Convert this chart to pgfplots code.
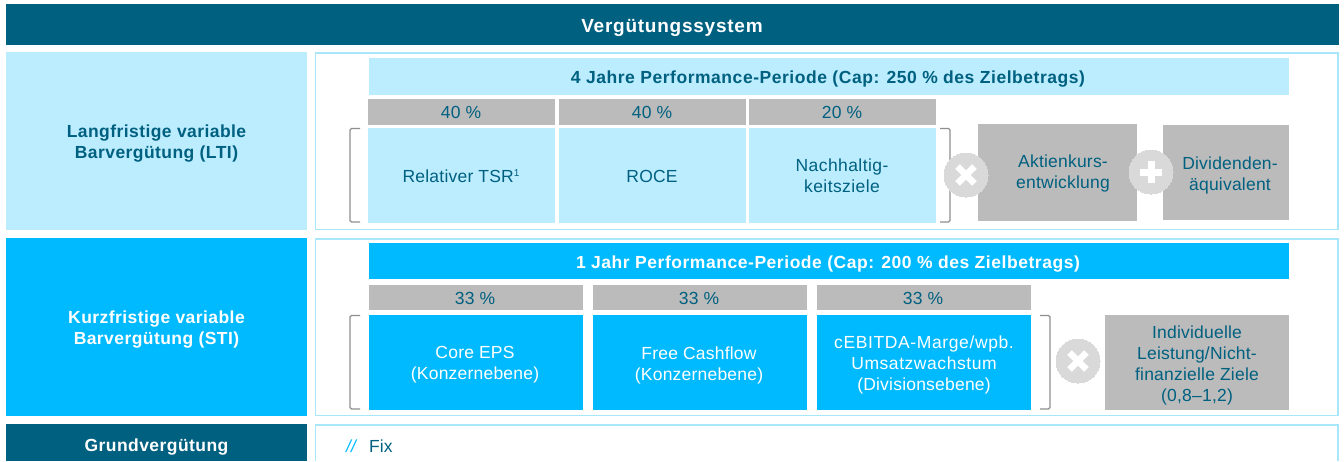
\documentclass[border=0pt]{standalone}
\usepackage{fontspec}
\setmainfont{Liberation Sans}
\usepackage{pgfplots}
\pgfplotsset{compat=1.18}
\definecolor{dunkel}{HTML}{006080}
\definecolor{hell}{HTML}{BBEDFF}
\definecolor{mittel}{HTML}{00BAFF}
\definecolor{grau}{HTML}{BBBBBB}
\definecolor{rand}{HTML}{A8E6FA}
\definecolor{kreis}{HTML}{D9D9D9}
\definecolor{klammer}{HTML}{8F8F8F}

% box: colour, x0, x1, y0, y1 in reference pixels
\newcommand{\bx}[5]{\addplot[mark=none,draw=none,fill=#1] coordinates {(#2,#4)(#3,#4)(#3,#5)(#2,#5)} -- cycle;}
\newcommand{\rahmen}[4]{\addplot[mark=none,draw=rand,line width=1.7pt,fill=white] coordinates {(#1,#3)(#2,#3)(#2,#4)(#1,#4)} -- cycle;}
\newcommand{\kl}[4]{\addplot[mark=none,draw=klammer,line width=1.1pt,rounded corners=1.5pt] coordinates {(#1,#3)(#2,#3)(#2,#4)(#1,#4)};}
\newcommand{\txt}[4]{\node[text=#1,align=center,inner sep=0pt,font=\fontsize{17.5}{21}\selectfont\addfontfeature{LetterSpace=1.2}] at (axis cs:#2,#3) {#4};}
\newcommand{\btxt}[4]{\node[text=#1,align=center,inner sep=0pt,font=\fontsize{17.5}{21}\selectfont\bfseries\addfontfeature{LetterSpace=2.5}] at (axis cs:#2,#3) {#4};}
\newcommand{\ptxt}[4]{\node[text=#1,align=center,inner sep=0pt,font=\fontsize{17.5}{21}\selectfont\bfseries\addfontfeature{LetterSpace=3.1}] at (axis cs:#2,#3) {#4};}
\newcommand{\hoch}[1]{\raisebox{6pt}{\fontsize{10}{10}\selectfont #1}}

\begin{document}
\begin{tikzpicture}
\useasboundingbox (0,0) rectangle (1344pt,461pt);
\begin{axis}[
  at={(0,0)},anchor=south west,
  scale only axis,width=1344pt,height=461pt,
  xmin=0,xmax=1344,ymin=0,ymax=461,y dir=reverse,
  hide axis,
]
% header
\bx{dunkel}{6}{1339}{4}{45}
\node[text=white,inner sep=0pt,font=\fontsize{19}{20}\selectfont\bfseries\addfontfeature{LetterSpace=4}] at (axis cs:672,28) {Vergütungssystem};

% LTI
\bx{hell}{6}{307}{52}{230}
\btxt{dunkel}{156.5}{144}{Langfristige variable\\Barvergütung (LTI)}
\rahmen{315.5}{1338}{53}{229.5}
\bx{hell}{369}{1289}{58}{95}
\ptxt{dunkel}{828}{79}{4 Jahre Performance-Periode (Cap: 250 \% des Zielbetrags)}
\bx{grau}{368}{555}{99}{125}
\bx{grau}{559}{746}{99}{125}
\bx{grau}{749}{936}{99}{125}
\txt{dunkel}{461}{112.5}{40 \%}
\txt{dunkel}{652}{112.5}{40 \%}
\txt{dunkel}{842}{112.5}{20 \%}
\bx{hell}{368}{555}{128}{223}
\bx{hell}{559}{746}{128}{223}
\bx{hell}{749}{936}{128}{223}
\txt{dunkel}{461}{176}{Relativer TSR\hoch{1}}
\txt{dunkel}{652}{176}{ROCE}
\txt{dunkel}{842}{175.5}{{\addfontfeature{LetterSpace=2.4}Nachhaltig-}\\{\addfontfeature{LetterSpace=2.4}keitsziele}}
\kl{360}{350}{128.5}{222}
\kl{940}{950}{128.5}{222}
\bx{grau}{978}{1137}{124}{221}
\bx{grau}{1163}{1289}{125}{220}
\txt{dunkel}{1063}{173}{Aktienkurs-\\entwicklung}
\txt{dunkel}{1230}{175}{Dividenden-\\äquivalent}
\addplot[only marks,mark=*,mark size=22pt,mark options={draw=kreis,line width=0pt,fill=kreis}] coordinates {(966,175)(1151,172)(1078,361)};
\addplot[only marks,mark=x,mark size=12pt,mark options={draw=white,line width=6.5pt}] coordinates {(966,175)(1078,361)};
\addplot[only marks,mark=+,mark size=11pt,mark options={draw=white,line width=7pt}] coordinates {(1151,172)};

% STI
\bx{mittel}{6}{307}{238}{416}
\btxt{white}{156.5}{330}{Kurzfristige variable\\Barvergütung (STI)}
\rahmen{315.5}{1338}{239}{415.5}
\bx{mittel}{369}{1289}{243}{279}
\ptxt{white}{828}{264}{1 Jahr Performance-Periode (Cap: 200 \% des Zielbetrags)}
\bx{grau}{369}{583}{285}{310}
\bx{grau}{593}{807}{285}{310}
\bx{grau}{817}{1031}{285}{310}
\txt{dunkel}{475}{298.5}{33 \%}
\txt{dunkel}{699}{298.5}{33 \%}
\txt{dunkel}{923}{298.5}{33 \%}
\bx{mittel}{369}{583}{315}{410}
\bx{mittel}{593}{807}{315}{410}
\bx{mittel}{817}{1031}{315}{410}
\txt{white}{475}{365}{Core EPS\\(Konzernebene)}
\txt{white}{699}{365}{Free Cashflow\\(Konzernebene)}
\txt{white}{924}{365}{{\addfontfeature{LetterSpace=3.5}cEBITDA-Marge/wpb.}\\{\addfontfeature{LetterSpace=3.2}Umsatzwachstum}\\(Divisionsebene)}
\kl{360}{350}{315.5}{409}
\kl{1040}{1050}{315.5}{409}
\bx{grau}{1105}{1289}{315}{410}
\txt{dunkel}{1197}{365}{Individuelle\\Leistung/Nicht-\\finanzielle Ziele\\(0,8–1,2)}

% Grundvergütung
\bx{dunkel}{6}{307}{424}{461}
\btxt{white}{156.5}{447.5}{Grundvergütung}
\addplot[mark=none,draw=rand,line width=1.7pt] coordinates {(315.5,461)(315.5,425)(1338,425)(1338,461)};
\node[text=mittel,anchor=west,inner sep=0pt,font=\fontsize{17.5}{20}\selectfont\itshape] at (axis cs:346,446) {//};
\node[text=dunkel,anchor=west,inner sep=0pt,font=\fontsize{17.5}{20}\selectfont] at (axis cs:369,446) {Fix};
\end{axis}
\end{tikzpicture}
\end{document}
